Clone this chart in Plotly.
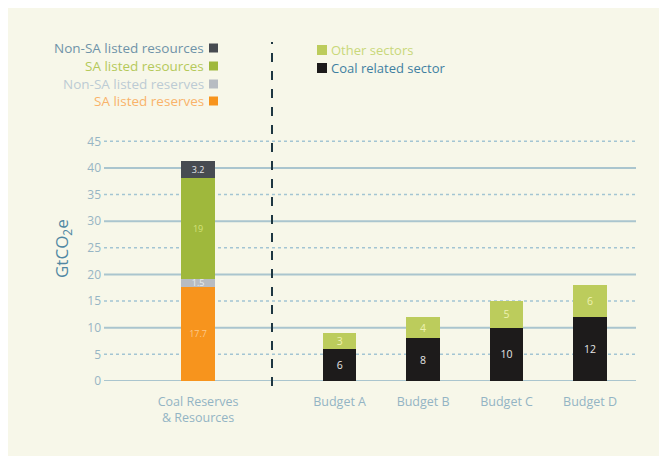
import plotly.graph_objects as go

# data
coal_cat = ["Coal Reserves<br>& Resources"]
coal_series = ["SA listed reserves", "Non-SA listed reserves", "SA listed resources", "Non-SA listed resources"]
coal_values = [17.7, 1.5, 19, 3.2]
coal_labels = ["17.7", "1.5", "19", "3.2"]

budget_cats = ["Budget A", "Budget B", "Budget C", "Budget D"]
coal_sector = [6, 8, 10, 12]
other_sectors = [3, 4, 5, 6]

y_ticks = [0, 5, 10, 15, 20, 25, 30, 35, 40, 45]

# styling
BG = "#f7f7e9"
FONT = "Open Sans"
coal_colors = ["#f7941d", "#b7bcc2", "#9fb83c", "#474b51"]
coal_text_colors = ["#fbc98c", "#e8ecef", "#d4e27a", "#e4e6ea"]
legend_text_colors = ["#f9b36a", "#bccbd4", "#b5c95a", "#6f93a8"]
green_budget = "#bccc5c"
black_budget = "#1d1b1b"

# page has an 8px body margin, so screen px = figure px + 8
OFF = 8
W, H = 667, 456
L, R, T, B = 96, 39, 128, 83
pw, ph = W - L - R, H - T - B

def px(x):
    return (x - OFF - L) / pw

def py(y):
    return (H - B - (y - OFF)) / ph

split = px(272)

fig = go.Figure()

for name, val, lab, col, tcol in zip(coal_series, coal_values, coal_labels, coal_colors, coal_text_colors):
    fig.add_trace(go.Bar(
        x=coal_cat, y=[val], name=name, text=[lab],
        marker=dict(color=col, line=dict(width=0)),
        textposition="inside", insidetextanchor="middle", textangle=0,
        textfont=dict(color=tcol, size=9, family=FONT),
        width=0.4, xaxis="x", yaxis="y", showlegend=False,
    ))

fig.add_trace(go.Bar(
    x=budget_cats, y=coal_sector, name="Coal related sector", text=coal_sector,
    marker=dict(color=black_budget, line=dict(width=0)),
    textposition="inside", insidetextanchor="middle", textangle=0,
    textfont=dict(color="#e6e6e6", size=10.5, family=FONT),
    width=0.4, xaxis="x2", yaxis="y", showlegend=False,
))
fig.add_trace(go.Bar(
    x=budget_cats, y=other_sectors, name="Other sectors", text=other_sectors,
    marker=dict(color=green_budget, line=dict(width=0)),
    textposition="inside", insidetextanchor="middle", textangle=0,
    textfont=dict(color="#eef2b0", size=10.5, family=FONT),
    width=0.4, xaxis="x2", yaxis="y", showlegend=False,
))

shapes = []
for v in y_ticks:
    solid = v % 10 == 0
    shapes.append(dict(
        type="line", xref="paper", yref="y", x0=0, x1=1, y0=v, y1=v,
        line=dict(color="#aac5ce" if solid else "#a3c5d3", width=2 if solid else 1.5,
                  dash="solid" if solid else "dot"),
        layer="below",
    ))

# divider
shapes.append(dict(
    type="line", xref="paper", yref="paper", x0=split, x1=split, y0=py(386), y1=py(42),
    line=dict(color="#1e3742", width=2, dash="dash"),
))

annotations = []
# left legend (text then square)
left_rows = [48, 66, 84, 101]
for name, col, tcol, yy in zip(coal_series[::-1], coal_colors[::-1], legend_text_colors[::-1], left_rows):
    annotations.append(dict(
        text=name, xref="paper", yref="paper", x=px(206), y=py(yy),
        xanchor="right", yanchor="middle", showarrow=False,
        font=dict(family=FONT, size=13.5, color=tcol),
    ))
    shapes.append(dict(
        type="rect", xref="paper", yref="paper",
        x0=px(209), x1=px(218), y0=py(yy + 4.5), y1=py(yy - 4.5),
        fillcolor=col, line=dict(width=0),
    ))

# right legend (square then text)
right_items = [("Other sectors", green_budget, "#c9d77a", 50), ("Coal related sector", black_budget, "#3f7fa1", 68)]
for name, col, tcol, yy in right_items:
    shapes.append(dict(
        type="rect", xref="paper", yref="paper",
        x0=px(317), x1=px(327), y0=py(yy + 5), y1=py(yy - 5),
        fillcolor=col, line=dict(width=0),
    ))
    annotations.append(dict(
        text=name, xref="paper", yref="paper", x=px(329), y=py(yy),
        xanchor="left", yanchor="middle", showarrow=False,
        font=dict(family=FONT, size=13, color=tcol),
    ))

# y axis title
annotations.append(dict(
    text="GtCO<sub>2</sub>e", xref="paper", yref="paper", x=px(62), y=py(249),
    xanchor="center", yanchor="middle", textangle=-90, showarrow=False,
    font=dict(family=FONT, size=17, color="#4f87a3"),
))

tick_font = dict(color="#93b4c4", size=12.5, family=FONT)
fig.update_layout(
    width=W, height=H,
    margin=dict(l=L, r=R, t=T, b=B),
    paper_bgcolor=BG, plot_bgcolor=BG,
    barmode="stack",
    font=dict(family=FONT),
    uniformtext=dict(minsize=9, mode="show"),
    xaxis=dict(domain=[0, split], range=[-1.12, 0.88], anchor="y",
               showgrid=False, zeroline=False, showline=False, ticks="",
               ticklabelstandoff=11, tickfont=tick_font),
    xaxis2=dict(domain=[split, 1], range=[-0.81, 3.55], anchor="y",
                showgrid=False, zeroline=False, showline=False, ticks="",
                ticklabelstandoff=11, tickfont=tick_font),
    yaxis=dict(range=[0, 46], tickvals=y_ticks, showgrid=False, zeroline=False,
               showline=False, ticks="", ticklabelstandoff=2,
               tickfont=dict(color="#97b5c4", size=12, family=FONT)),
    shapes=shapes,
    annotations=annotations,
)

fig.write_html("out.html")
